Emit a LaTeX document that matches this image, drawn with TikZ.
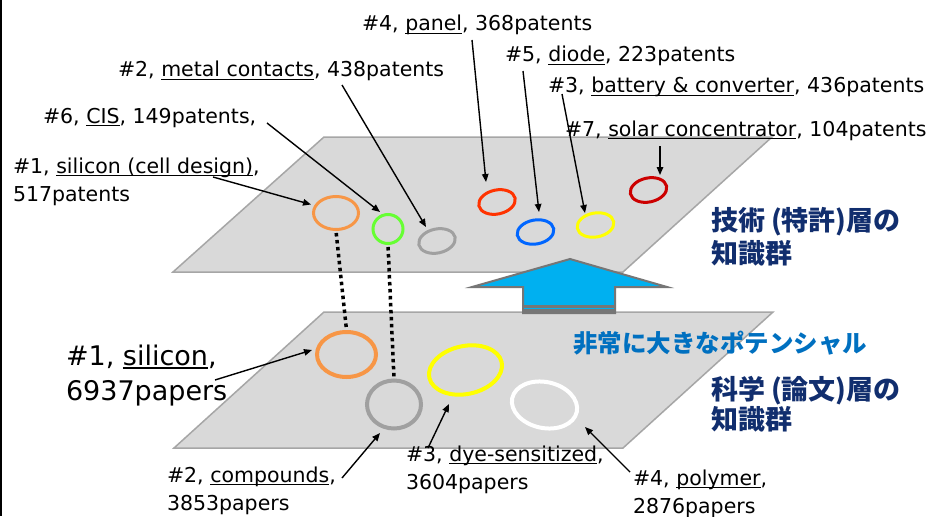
\documentclass[tikz,border=0pt]{standalone}
\usepackage{fontspec}
\setmainfont{DejaVu Sans}
\newfontfamily\jp{Noto Sans CJK JP}
\usetikzlibrary{arrows.meta,shapes.geometric}
\definecolor{planefill}{HTML}{D9D9D9}
\definecolor{planeedge}{HTML}{A6A6A6}
\definecolor{cOrange}{HTML}{F79646}
\definecolor{cGreen}{HTML}{66FF33}
\definecolor{cGray}{HTML}{A0A0A0}
\definecolor{cRedOr}{HTML}{FF3300}
\definecolor{cBlue}{HTML}{0066FF}
\definecolor{cYellow}{HTML}{FFFF00}
\definecolor{cDarkRed}{HTML}{CC0000}
\definecolor{arrowblue}{HTML}{00B0F0}
\definecolor{arrowgray}{HTML}{767676}
\definecolor{navy}{HTML}{112E6E}
\definecolor{potblue}{HTML}{0070C0}
\newcommand\myul[1]{\setbox0=\hbox{#1}\rlap{\rule[-3.2pt]{\wd0}{1.5pt}}\box0}
\newcommand\myulb[1]{\setbox0=\hbox{#1}\rlap{\rule[-3.8pt]{\wd0}{2pt}}\box0}
\begin{document}
\begin{tikzpicture}[x=1pt,y=-1pt,
  lab/.style={anchor=base west, inner sep=0pt, outer sep=0pt, align=left, font=\fontsize{20.5}{28}\selectfont},
  biglab/.style={anchor=base west, inner sep=0pt, outer sep=0pt, align=left, font=\fontsize{27}{35}\selectfont},
  arr/.style={-{Triangle[length=8pt,width=6.5pt]}, line width=1.4pt, black},
  ring/.style={ellipse, draw, inner sep=0pt, line width=3pt},
  bring/.style={ellipse, draw, inner sep=0pt, line width=4pt},
  dotc/.style={line width=3.5pt, dash pattern=on 3.5pt off 3.5pt, black},
  plane/.style={fill=planefill, draw=planeedge, line width=1.5pt},
  jptxt/.style={anchor=base west, inner sep=0pt, outer sep=0pt, align=left}
]
\useasboundingbox (0,0) rectangle (933,516);
\fill[white] (0,0) rectangle (933,516);
\draw[black, line width=2pt] (1,0) -- (1,516);

% planes
\draw[plane] (324,137) -- (772,137) -- (623,272) -- (173,272) -- cycle;
\draw[plane] (324,312) -- (773,312) -- (623,448) -- (174,448) -- cycle;

% upward arrow
\draw[fill=arrowblue, draw=arrowgray, line width=2pt, line join=miter]
  (570,259) -- (667,287) -- (615,287) -- (615,313) -- (523,313) -- (523,287) -- (472,287) -- cycle;
\fill[arrowgray] (522,305) rectangle (616,314);
\draw[arrowblue, line width=0.8pt] (524,308.5) -- (614,308.5);

% top ellipses
\node[ring, draw=cOrange, minimum width=45, minimum height=33] (t1) at (336,213) {};
\node[ring, draw=cGreen, minimum width=30, minimum height=29] (t6) at (388,229) {};
\node[ring, draw=cGray, minimum width=37, minimum height=24, rotate=12] (t2) at (437,241) {};
\node[ring, draw=cRedOr, minimum width=37, minimum height=24, rotate=12] (t4) at (497,202) {};
\node[ring, draw=cBlue, minimum width=37, minimum height=24, rotate=10] (t5) at (535.5,232) {};
\node[ring, draw=cYellow, minimum width=37, minimum height=24, rotate=10] (t3) at (595.5,225) {};
\node[ring, draw=cDarkRed, minimum width=37, minimum height=24, rotate=12] (t7) at (648.5,190) {};

% bottom ellipses
\node[bring, draw=cOrange, minimum width=59, minimum height=45] (b1) at (346.5,354.5) {};
\node[bring, draw=cGray, minimum width=54, minimum height=48] (b2) at (394,404.5) {};
\node[bring, draw=cYellow, minimum width=74, minimum height=48, rotate=12] (b3) at (465.5,370) {};
\node[bring, draw=white, minimum width=66, minimum height=46, rotate=-12] (b4) at (544.5,405) {};

% dotted links
\draw[dotc, shorten <=2pt, shorten >=2pt] (t1.south) -- (b1.north);
\draw[dotc, shorten <=2pt, shorten >=1pt] (t6.south) -- (b2.north);

% top labels (anchor = baseline of last line)
\node[lab] (L4) at (362,31) {\#4, \myul{panel}, 368patents};
\node[lab] (L2) at (118,77) {\#2, \myul{metal contacts}, 438patents};
\node[lab] (L6) at (43,123) {\#6, \myul{CIS}, 149patents,};
\node[lab] (L1) at (13,201) {\#1, \myul{silicon (cell design)},\\517patents};
\node[lab] (L5) at (505,62) {\#5, \myul{diode}, 223patents};
\node[lab] (L3) at (548,93) {\#3, \myul{battery \& converter}, 436patents};
\node[lab] (L7) at (565,136) {\#7, \myul{solar concentrator}, 104patents};

% bottom labels
\node[biglab] (P1) at (66,400) {\#1, \myulb{silicon},\\6937papers};
\node[lab] (P2) at (167,510) {\#2, \myul{compounds},\\3853papers};
\node[lab] (P3) at (406,489) {\#3, \myul{dye-sensitized},\\3604papers};
\node[lab] (P4) at (633,513) {\#4, \myul{polymer},\\2876papers};

% arrow coordinates
\coordinate (a1s) at (213,177); \coordinate (a1e) at (311,204.5);
\coordinate (a6s) at (267,123); \coordinate (a6e) at (380,212);
\coordinate (a2s) at (342,85);  \coordinate (a2e) at (426,227);
\coordinate (a4s) at (472,40);  \coordinate (a4e) at (486,182);
\coordinate (a5s) at (523,71);  \coordinate (a5e) at (539,212);
\coordinate (a3s) at (562,94);  \coordinate (a3e) at (585,213);
\coordinate (a7s) at (660,146); \coordinate (a7e) at (660,175);
\coordinate (c1s) at (215,380); \coordinate (c1e) at (312,350);
\coordinate (c2s) at (342,478); \coordinate (c2e) at (380,433);
\coordinate (c3s) at (428,448); \coordinate (c3e) at (449,404);
\coordinate (c4s) at (630,472); \coordinate (c4e) at (585,427);
\foreach \p in {a1,a6,a2,a4,a5,a3,a7,c1,c2,c3,c4}{\draw[arr] (\p s) -- (\p e);}

% Japanese text
\node[jptxt, text=navy, font=\jp\bfseries\fontsize{27}{33.5}\selectfont] (J1) at (711,263.5) {技術 (特許)層の\\知識群};
\node[jptxt, text=navy, font=\jp\bfseries\fontsize{27}{30}\selectfont] (J2) at (711,429) {科学 (論文)層の\\知識群};
\node[jptxt, text=potblue, font=\jp\bfseries\fontsize{24.5}{30}\selectfont] (J3) at (573,352) {非常に大きなポテンシャル};
\end{tikzpicture}
\end{document}
